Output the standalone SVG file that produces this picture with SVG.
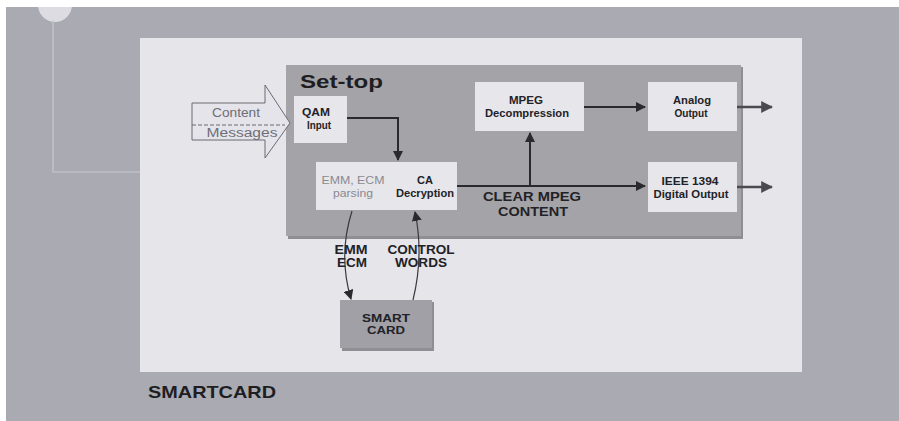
<svg xmlns="http://www.w3.org/2000/svg" width="899" height="421" viewBox="0 0 899 421">
<defs>
<marker id="ah" viewBox="0 0 10 10" refX="9" refY="5" markerWidth="10" markerHeight="10" markerUnits="userSpaceOnUse" orient="auto">
<path d="M0,0 L10,5 L0,10 z" fill="#2a2a2e"/>
</marker>
<marker id="ahg" viewBox="0 0 10 10" refX="9" refY="5" markerWidth="12" markerHeight="12" markerUnits="userSpaceOnUse" orient="auto">
<path d="M0,0 L10,5 L0,10 z" fill="#4a4a50"/>
</marker>
</defs>
<style>
.box{fill:#e6e6eb;}
.t{font-family:"Liberation Sans",Arial,sans-serif;font-weight:bold;fill:#222226;text-anchor:middle;}
.s{font-size:10px;}
.m{font-size:12px;}
.faint{fill:#8a8a92;font-weight:normal;}
.cm{fill:#6e6e76;font-weight:normal;}
.ln{stroke:#2a2a2e;stroke-width:2;fill:none;}
.lg{stroke:#4a4a50;stroke-width:2.5;fill:none;}
.cv{stroke:#3a3a3e;stroke-width:1.2;fill:none;}
</style>
<rect x="0" y="0" width="899" height="421" fill="#ffffff"/>
<rect x="6" y="7" width="893" height="414" fill="#a9aab2"/>
<circle cx="55" cy="5" r="17" fill="#dcdce2"/>
<rect x="6" y="0" width="90" height="7" fill="#ffffff"/>
<path d="M53,20 V172 H140" stroke="#c8c9d0" stroke-width="1.2" fill="none"/>
<rect x="140" y="38" width="662" height="334" fill="#e6e5ea"/>
<g id="settop">
<rect x="288" y="67" width="455" height="172" fill="#8e8e94"/>
<rect x="286" y="65" width="455" height="171" fill="#a3a3a8"/>
<text x="300" y="88" font-family="Liberation Sans,Arial,sans-serif" font-weight="bold" font-size="19" fill="#1e1e22" textLength="83" lengthAdjust="spacingAndGlyphs">Set-top</text>
</g>
<g id="content-arrow">
<path d="M192,103 H265 V85 L290,123 L265,158 V140 H192 Z" fill="#e4e4ea" stroke="#6a6a72" stroke-width="1"/>
<line x1="192" y1="125" x2="285" y2="125" stroke="#6a6a72" stroke-width="1" stroke-dasharray="4,2"/>
<text class="t m cm" x="236" y="117" textLength="48" lengthAdjust="spacingAndGlyphs">Content</text>
<text class="t m cm" x="242" y="137" textLength="71" lengthAdjust="spacingAndGlyphs">Messages</text>
</g>
<g id="qam">
<rect class="box" x="294" y="96" width="53" height="47"/>
<text class="t s" x="316" y="116" textLength="28" lengthAdjust="spacingAndGlyphs">QAM</text>
<text class="t s" x="319" y="129" textLength="24" lengthAdjust="spacingAndGlyphs">Input</text>
</g>
<g id="ca">
<rect class="box" x="316" y="162" width="141" height="48"/>
<text class="t s faint" x="353" y="184" textLength="63" lengthAdjust="spacingAndGlyphs">EMM, ECM</text>
<text class="t s faint" x="353" y="197" textLength="40" lengthAdjust="spacingAndGlyphs">parsing</text>
<text class="t s" x="425" y="184" textLength="16" lengthAdjust="spacingAndGlyphs">CA</text>
<text class="t s" x="425" y="197" textLength="58" lengthAdjust="spacingAndGlyphs">Decryption</text>
</g>
<g id="mpeg">
<rect class="box" x="475" y="82" width="109" height="49"/>
<text class="t s" x="526" y="104" textLength="34" lengthAdjust="spacingAndGlyphs">MPEG</text>
<text class="t s" x="527" y="117" textLength="84" lengthAdjust="spacingAndGlyphs">Decompression</text>
</g>
<g id="analog">
<rect class="box" x="648" y="82" width="89" height="49"/>
<text class="t s" x="692" y="104" textLength="38" lengthAdjust="spacingAndGlyphs">Analog</text>
<text class="t s" x="691" y="117" textLength="33" lengthAdjust="spacingAndGlyphs">Output</text>
</g>
<g id="digital">
<rect class="box" x="648" y="162" width="89" height="50"/>
<text class="t s" x="690" y="185" textLength="57" lengthAdjust="spacingAndGlyphs">IEEE 1394</text>
<text class="t s" x="691" y="198" textLength="75" lengthAdjust="spacingAndGlyphs">Digital Output</text>
</g>
<g id="smartcard">
<rect x="342" y="302" width="92" height="49" fill="#8e8e94"/>
<rect x="340" y="300" width="92" height="48" fill="#a0a0a6"/>
<text class="t s" x="386" y="322" textLength="48" lengthAdjust="spacingAndGlyphs">SMART</text>
<text class="t s" x="386" y="334" textLength="38" lengthAdjust="spacingAndGlyphs">CARD</text>
</g>
<g id="connectors">
<path class="ln" d="M347,118 H398 V160" marker-end="url(#ah)"/>
<path class="ln" d="M457,186 H645" marker-end="url(#ah)"/>
<path class="ln" d="M530,186 V133" marker-end="url(#ah)"/>
<path class="ln" d="M584,107 H645" marker-end="url(#ah)"/>
<path class="lg" d="M737,107 H772" marker-end="url(#ahg)"/>
<path class="lg" d="M737,187 H772" marker-end="url(#ahg)"/>
<path class="cv" d="M352,211 Q338,255 351,299" marker-end="url(#ah)"/>
<path class="cv" d="M413,300 Q424,255 415,212" marker-end="url(#ah)"/>
<text class="t m" x="532" y="201" textLength="98" lengthAdjust="spacingAndGlyphs">CLEAR MPEG</text>
<text class="t m" x="533" y="216" textLength="70" lengthAdjust="spacingAndGlyphs">CONTENT</text>
<text class="t m" x="351" y="254" textLength="33" lengthAdjust="spacingAndGlyphs">EMM</text>
<text class="t m" x="352" y="267" textLength="30" lengthAdjust="spacingAndGlyphs">ECM</text>
<text class="t m" x="421" y="254" textLength="67" lengthAdjust="spacingAndGlyphs">CONTROL</text>
<text class="t m" x="421" y="267" textLength="52" lengthAdjust="spacingAndGlyphs">WORDS</text>
</g>
<text x="148" y="398" font-family="Liberation Sans,Arial,sans-serif" font-weight="bold" font-size="17" fill="#1e1e22" textLength="128" lengthAdjust="spacingAndGlyphs">SMARTCARD</text>
</svg>
